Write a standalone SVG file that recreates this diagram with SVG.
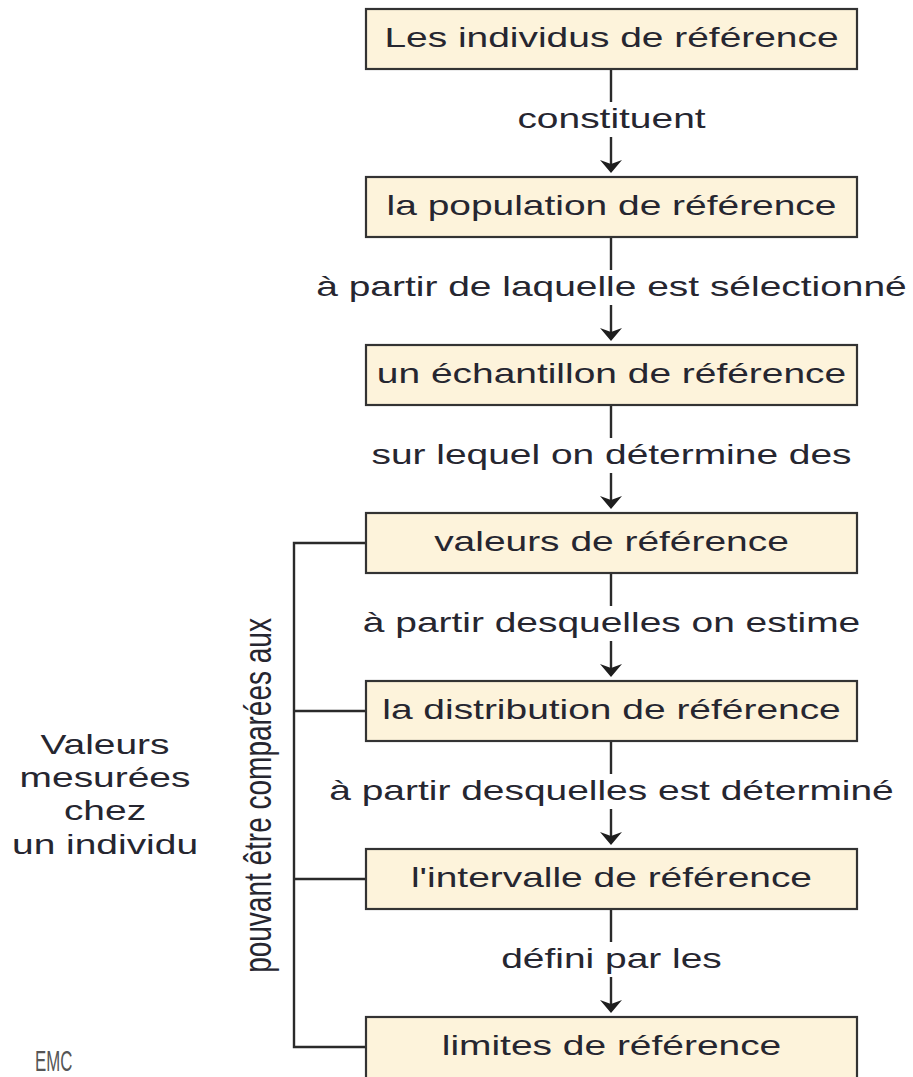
<svg xmlns="http://www.w3.org/2000/svg" xmlns:xlink="http://www.w3.org/1999/xlink" width="913" height="1077" viewBox="0 0 913 1077">
<style>
.box{fill:#fdf3db;stroke:#333;stroke-width:2.2}
.t{font-family:"Liberation Sans",Arial,sans-serif;font-size:28px;fill:#262630;text-anchor:middle}
.ln{stroke:#2a2a2a;stroke-width:2.4;fill:none}
.ah{fill:#1e1e1e}
</style>
<defs>
<path id="ah" d="M0,0 L-11,-13 L0,-9 L11,-13 Z"/>
</defs>
<rect width="913" height="1077" fill="#ffffff"/>

<g id="connectors">
<path class="ln" d="M611,70 V102 M611,137 V167 M611,238 V270 M611,305 V335 M611,406 V438 M611,473 V503 M611,574 V606 M611,641 V671 M611,742 V774 M611,809 V839 M611,910 V942 M611,977 V1007"/>
<use href="#ah" class="ah" transform="translate(611,173)"/>
<use href="#ah" class="ah" transform="translate(611,341)"/>
<use href="#ah" class="ah" transform="translate(611,509)"/>
<use href="#ah" class="ah" transform="translate(611,677)"/>
<use href="#ah" class="ah" transform="translate(611,845)"/>
<use href="#ah" class="ah" transform="translate(611,1013)"/>
<path class="ln" d="M366,543 H294 V1047 H366 M294,711 H366 M294,879 H366"/>
<text class="t" transform="translate(611.5,128) scale(1.39,1)">constituent</text>
<text class="t" transform="translate(611.5,296) scale(1.39,1)">à partir de laquelle est sélectionné</text>
<text class="t" transform="translate(611.5,464) scale(1.39,1)">sur lequel on détermine des</text>
<text class="t" transform="translate(611.5,632) scale(1.39,1)">à partir desquelles on estime</text>
<text class="t" transform="translate(611.5,800) scale(1.39,1)">à partir desquelles est déterminé</text>
<text class="t" transform="translate(611.5,968) scale(1.39,1)">défini par les</text>
<text class="t" transform="translate(271,795.5) scale(1.39,1) rotate(-90)">pouvant être comparées aux</text>
</g>

<g id="n1"><rect class="box" x="366" y="9" width="491" height="60"/><text class="t" transform="translate(611.5,47) scale(1.39,1)">Les individus de référence</text></g>
<g id="n2"><rect class="box" x="366" y="177" width="491" height="60"/><text class="t" transform="translate(611.5,215) scale(1.39,1)">la population de référence</text></g>
<g id="n3"><rect class="box" x="366" y="345" width="491" height="60"/><text class="t" transform="translate(611.5,383) scale(1.39,1)">un échantillon de référence</text></g>
<g id="n4"><rect class="box" x="366" y="513" width="491" height="60"/><text class="t" transform="translate(611.5,551) scale(1.39,1)">valeurs de référence</text></g>
<g id="n5"><rect class="box" x="366" y="681" width="491" height="60"/><text class="t" transform="translate(611.5,719) scale(1.39,1)">la distribution de référence</text></g>
<g id="n6"><rect class="box" x="366" y="849" width="491" height="60"/><text class="t" transform="translate(611.5,887) scale(1.39,1)">l'intervalle de référence</text></g>
<g id="n7"><rect class="box" x="366" y="1017" width="491" height="62"/><text class="t" transform="translate(611.5,1055) scale(1.39,1)">limites de référence</text></g>

<g id="n8">
<text class="t" transform="translate(105,754) scale(1.39,1)">Valeurs</text>
<text class="t" transform="translate(105,787) scale(1.39,1)">mesurées</text>
<text class="t" transform="translate(105,820) scale(1.39,1)">chez</text>
<text class="t" transform="translate(105,854) scale(1.39,1)">un individu</text>
</g>

<g id="logo">
<text transform="translate(35,1071) scale(0.56,1)" style="font-family:'Liberation Sans',Arial,sans-serif;font-size:30px;fill:#555">EMC</text>
</g>
</svg>
